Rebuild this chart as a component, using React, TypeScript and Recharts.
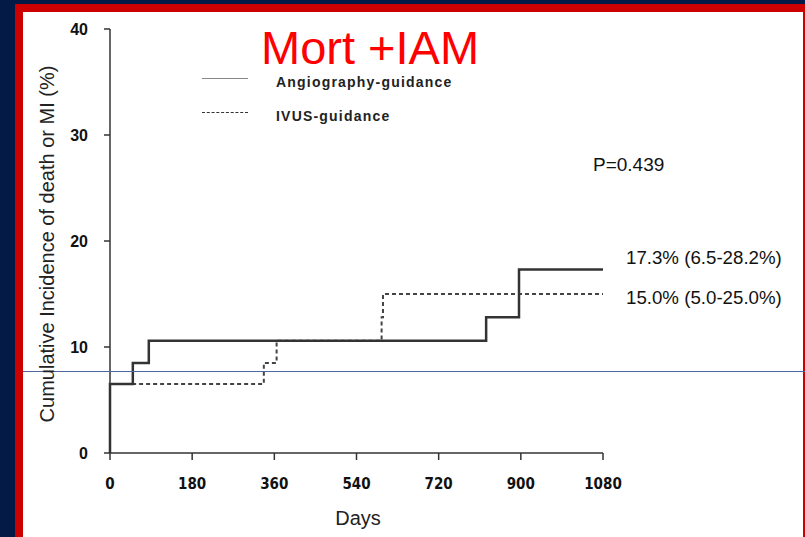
import React from "react";
import { LineChart, Line, XAxis, YAxis } from "recharts";

// Kaplan-Meier style cumulative incidence (death or MI), in %
const angioDays = [0, 0, 50, 85, 824, 896, 1080];
const angioValues = [0, 6.5, 8.5, 10.6, 12.8, 17.3, 17.3];

const ivusDays = [0, 0, 337, 365, 595, 598, 1080];
const ivusValues = [0, 6.5, 8.5, 10.6, 12.8, 15.0, 15.0];

const xTicks = [0, 180, 360, 540, 720, 900, 1080];
const yTicks = [0, 10, 20, 30, 40];

const seriesNames = ["Angiography-guidance", "IVUS-guidance"];
const endLabels = ["17.3% (6.5-28.2%)", "15.0% (5.0-25.0%)"];
const pValue = "P=0.439";
const title = "Mort +IAM";

const angioData = angioDays.map((d, i) => ({ day: d, value: angioValues[i] }));
const ivusData = ivusDays.map((d, i) => ({ day: d, value: ivusValues[i] }));

const W = 805;
const H = 537;
const sans = "'Liberation Sans', Arial, sans-serif";
const narrow = "'DejaVu Sans Condensed', 'Liberation Sans Narrow', 'Liberation Sans', Arial, sans-serif";

export default function App() {
  return (
    <div
      style={{
        position: "absolute",
        left: 0,
        top: 0,
        width: W,
        height: H,
        background: "#031a47",
        overflow: "hidden",
        fontFamily: sans,
      }}
    >
      {/* red slide frame */}
      <div style={{ position: "absolute", left: 15, top: 4, width: W - 15, height: H - 4, background: "#cc0000" }} />
      {/* white slide body */}
      <div style={{ position: "absolute", left: 23, top: 12, width: 780, height: H - 12, background: "#ffffff" }} />

      <div style={{ position: "absolute", left: 0, top: 0 }}>
        <LineChart
          width={W}
          height={H}
          margin={{ top: 29, right: 202, bottom: 24, left: 50 }}
        >
          <XAxis
            type="number"
            dataKey="day"
            domain={[0, 1080]}
            ticks={xTicks}
            allowDuplicatedCategory={false}
            height={60}
            tickSize={7}
            tickMargin={18}
            axisLine={{ stroke: "#333", strokeWidth: 1.5 }}
            tickLine={{ stroke: "#333", strokeWidth: 1.5 }}
            tick={{ fill: "#111", fontSize: 15, fontWeight: 700, fontFamily: narrow }}
          />
          <YAxis
            type="number"
            dataKey="value"
            domain={[0, 40]}
            ticks={yTicks}
            width={60}
            tickSize={6}
            tickMargin={16}
            axisLine={{ stroke: "#333", strokeWidth: 1.5 }}
            tickLine={{ stroke: "#333", strokeWidth: 1.5 }}
            tick={{ fill: "#111", fontSize: 16, fontWeight: 700, fontFamily: sans }}
          />
          <Line
            data={ivusData}
            dataKey="value"
            type="stepAfter"
            stroke="#444"
            strokeWidth={2}
            strokeDasharray="4 3"
            dot={false}
            isAnimationActive={false}
          />
          <Line
            data={angioData}
            dataKey="value"
            type="stepAfter"
            stroke="#333"
            strokeWidth={2.5}
            dot={false}
            isAnimationActive={false}
          />
        </LineChart>
      </div>

      {/* thin horizontal rule across the slide */}
      <div style={{ position: "absolute", left: 23, top: 371, width: W - 23, height: 1, background: "#4f66a0" }} />

      {/* title */}
      <div
        style={{
          position: "absolute",
          left: 261,
          top: 20,
          fontSize: 47,
          lineHeight: "56px",
          color: "#ff0000",
          whiteSpace: "nowrap",
        }}
      >
        {title}
      </div>

      {/* legend */}
      <div style={{ position: "absolute", left: 202, top: 78, width: 46, height: 0, borderTop: "1.5px solid #888" }} />
      <div style={{ position: "absolute", left: 202, top: 112, width: 46, height: 0, borderTop: "1.5px dashed #333" }} />
      <div
        style={{
          position: "absolute",
          left: 276,
          top: 74,
          fontSize: 14,
          fontWeight: 700,
          letterSpacing: 1.2,
          color: "#222",
          whiteSpace: "nowrap",
          lineHeight: "17px",
        }}
      >
        {seriesNames[0]}
      </div>
      <div
        style={{
          position: "absolute",
          left: 276,
          top: 108,
          fontSize: 14,
          fontWeight: 700,
          letterSpacing: 1.2,
          color: "#222",
          whiteSpace: "nowrap",
          lineHeight: "17px",
        }}
      >
        {seriesNames[1]}
      </div>

      {/* p-value and end-of-follow-up estimates */}
      <div style={{ position: "absolute", left: 593, top: 154, fontSize: 19, color: "#111", lineHeight: "22px", whiteSpace: "nowrap" }}>
        {pValue}
      </div>
      <div style={{ position: "absolute", left: 626, top: 247, fontSize: 18.7, color: "#111", lineHeight: "22px", whiteSpace: "nowrap" }}>
        {endLabels[0]}
      </div>
      <div style={{ position: "absolute", left: 626, top: 287, fontSize: 18.7, color: "#111", lineHeight: "22px", whiteSpace: "nowrap" }}>
        {endLabels[1]}
      </div>

      {/* axis titles */}
      <div
        style={{
          position: "absolute",
          left: 47,
          top: 244,
          transform: "translate(-50%, -50%) rotate(-90deg)",
          fontSize: 20,
          color: "#222",
          whiteSpace: "nowrap",
          lineHeight: "24px",
        }}
      >
        Cumulative Incidence of death or MI (%)
      </div>
      <div
        style={{
          position: "absolute",
          left: 358,
          top: 518,
          transform: "translate(-50%, -50%)",
          fontSize: 20,
          color: "#222",
          whiteSpace: "nowrap",
          lineHeight: "24px",
        }}
      >
        Days
      </div>
    </div>
  );
}
